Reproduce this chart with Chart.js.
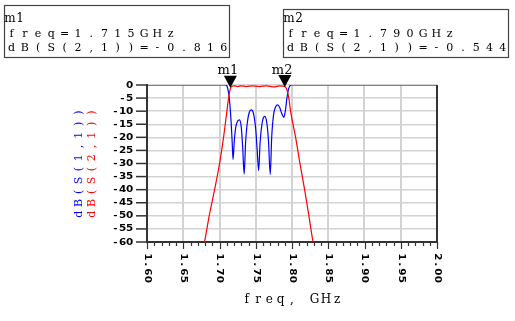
<!DOCTYPE html>
<html><head><meta charset="utf-8">
<script src="https://cdn.jsdelivr.net/npm/chart.js@4.4.0/dist/chart.umd.min.js"></script>
<style>html,body{margin:0;padding:0;background:#fff;overflow:hidden}#c{display:block}</style>
</head><body>
<div style="width:515px;height:321px"><canvas id="c" width="515" height="321"></canvas></div>
<script>
const xTicks = [1.60, 1.65, 1.70, 1.75, 1.80, 1.85, 1.90, 1.95, 2.00];
const xTickLabels = ['1.60', '1.65', '1.70', '1.75', '1.80', '1.85', '1.90', '1.95', '2.00'];
const yTicks = [0, -5, -10, -15, -20, -25, -30, -35, -40, -45, -50, -55, -60];
const yTickLabels = ['0', '-5', '-10', '-15', '-20', '-25', '-30', '-35', '-40', '-45', '-50', '-55', '-60'];

// dB(S(2,1)) - red
const s21Freq = [1.676, 1.6793, 1.6858, 1.6932, 1.7001, 1.7056, 1.7102, 1.7125, 1.7145, 1.7158,
  1.720, 1.725, 1.730, 1.737, 1.745, 1.755, 1.765, 1.775, 1.783, 1.790,
  1.7930, 1.7956, 1.798, 1.805, 1.811, 1.8174, 1.8233, 1.829, 1.832];
const s21dB = [-64, -60, -50, -40, -30, -20, -10, -5, -2, -0.8,
  -0.3, -0.6, -0.3, -0.6, -0.3, -0.6, -0.3, -0.7, -0.3, -0.544,
  -1.8, -5, -10, -20, -30, -40, -50, -60, -64];

// dB(S(1,1)) - blue
const s11Freq = [1.600, 1.708, 1.710, 1.7115, 1.713, 1.7145, 1.716, 1.7175, 1.7187,
  1.7205, 1.7225, 1.7250, 1.7276, 1.7300, 1.7320, 1.7340,
  1.7360, 1.7380, 1.7410, 1.7439, 1.7470, 1.7500, 1.7520, 1.7540,
  1.7560, 1.7585, 1.7605, 1.7624, 1.7650, 1.7675, 1.7700,
  1.7720, 1.7745, 1.7775, 1.7803, 1.7830, 1.7860, 1.7887,
  1.7910, 1.7930, 1.7950, 1.7970, 1.7990, 2.000];
const s11dB = [0, 0, -0.3, -1.5, -4, -8, -14, -22, -28.5,
  -21, -16, -13.8, -13.3, -16, -24, -34,
  -22, -15.3, -10.5, -9.5, -11, -17, -25, -32.7,
  -22, -15, -12.5, -12, -14, -21, -34.2,
  -20, -11.5, -8.3, -7.6, -8.6, -11, -12.4,
  -9.5, -5, -1.8, -0.4, 0, 0];

const markerNames = ['m1', 'm2'];
const markerFreq = [1.715, 1.790];
const markerDB = [-0.816, -0.544];
const markerLines = [
  ['m1', 'freq=1.715GHz', 'dB(S(2,1))=-0.816'],
  ['m2', 'freq=1.790GHz', 'dB(S(2,1))=-0.544']
];

const toXY = (xs, ys) => xs.map((x, i) => ({x: x, y: ys[i]}));

function spaced(ctx, text, x0, y, pitch, sx) {
  for (let i = 0; i < text.length; i++) {
    const cx = x0 + pitch * i + pitch / 2;
    ctx.save();
    ctx.translate(cx, y);
    ctx.scale(sx, 1);
    ctx.textAlign = 'center';
    ctx.fillText(text[i], 0, 0);
    ctx.restore();
  }
}

const deco = {
  id: 'deco',
  afterDraw(chart) {
    const ctx = chart.ctx;
    const xs = chart.scales.x, ys = chart.scales.y;
    const a = chart.chartArea;
    ctx.save();
    ctx.strokeStyle = '#333';
    ctx.lineWidth = 2;
    ctx.beginPath(); ctx.moveTo(a.right, a.top); ctx.lineTo(a.right, a.bottom + 1); ctx.stroke();
    ctx.lineWidth = 1.2;
    for (let i = 0; i <= 40; i++) {
      const v = 1.6 + i * 0.01;
      const px = Math.round(xs.getPixelForValue(v)) + 0.5;
      const len = (i % 5 === 0) ? 7 : 4;
      ctx.beginPath(); ctx.moveTo(px, a.bottom); ctx.lineTo(px, a.bottom + len); ctx.stroke();
    }
    ctx.lineWidth = 1.5;
    yTicks.forEach(v => {
      const py = ys.getPixelForValue(v);
      ctx.beginPath(); ctx.moveTo(a.left - 11, py); ctx.lineTo(a.left, py); ctx.stroke();
    });
    ctx.fillStyle = '#000';
    ctx.font = 'bold 8px "DejaVu Sans"';
    ctx.textBaseline = 'middle';
    yTickLabels.forEach((t, i) => {
      const py = ys.getPixelForValue(yTicks[i]);
      const p = 7;
      spaced(ctx, t, 133 - p * t.length, py + 0.5, p, 1.3);
    });
    xTickLabels.forEach((t, i) => {
      const px = xs.getPixelForValue(xTicks[i]);
      ctx.save();
      ctx.translate(px, a.bottom + 11);
      ctx.rotate(Math.PI / 2);
      spaced(ctx, t, 0, 0, 7.5, 1.3);
      ctx.restore();
    });
    ctx.font = '12px "DejaVu Serif"';
    ctx.textBaseline = 'alphabetic';
    const xt = 'freq, GHz';
    const xp = 11.3;
    spaced(ctx, xt, (a.left + a.right) / 2 - xp * xt.length / 2, 303, xp, 1);
    const yTitles = [['dB(S(1,1))', '#0000ff', 79], ['dB(S(2,1))', '#ff0000', 92.5]];
    const yc = (a.top + a.bottom) / 2;
    yTitles.forEach(([t, col, cx]) => {
      ctx.save();
      ctx.fillStyle = col;
      ctx.translate(cx, yc);
      ctx.rotate(-Math.PI / 2);
      ctx.textBaseline = 'middle';
      ctx.font = '11px "DejaVu Serif"';
      const p = 11.3;
      spaced(ctx, t, -p * t.length / 2, 0, p, 1);
      ctx.restore();
    });
    markerNames.forEach((n, i) => {
      const px = xs.getPixelForValue(markerFreq[i]);
      const py = ys.getPixelForValue(markerDB[i]);
      ctx.fillStyle = '#000';
      ctx.beginPath();
      ctx.moveTo(px - 6.5, py - 11.5);
      ctx.lineTo(px + 6.5, py - 11.5);
      ctx.lineTo(px, py + 0.5);
      ctx.closePath(); ctx.fill();
      ctx.font = '13px "DejaVu Serif"';
      ctx.textBaseline = 'alphabetic';
      spaced(ctx, n, px - 12, 73.5, 10.5, 1);
    });
    const boxes = [[4, 5, 225, 52], [283, 9, 225, 48]];
    boxes.forEach((b, i) => {
      ctx.strokeStyle = '#444';
      ctx.lineWidth = 1.2;
      ctx.strokeRect(b[0] + 0.5, b[1] + 0.5, b[2], b[3]);
      ctx.fillStyle = '#000';
      ctx.textBaseline = 'alphabetic';
      const L = markerLines[i];
      ctx.font = '12px "DejaVu Serif"';
      spaced(ctx, L[0], b[0] + 1, 22, 10, 1);
      ctx.font = '11px "DejaVu Serif"';
      spaced(ctx, L[1], b[0] + 1, 36.5, 13.25, 1);
      spaced(ctx, L[2], b[0] + 1, 51, 13.25, 1);
    });
    ctx.restore();
  }
};

new Chart(document.getElementById('c'), {
  type: 'line',
  data: {
    datasets: [
      {label: 'dB(S(2,1))', data: toXY(s21Freq, s21dB), borderColor: '#ff0000', borderWidth: 1.2,
        pointRadius: 0, fill: false, cubicInterpolationMode: 'monotone'},
      {label: 'dB(S(1,1))', data: toXY(s11Freq, s11dB), borderColor: '#0000ff', borderWidth: 1.2,
        pointRadius: 0, fill: false, cubicInterpolationMode: 'monotone'}
    ]
  },
  options: {
    responsive: false,
    animation: false,
    devicePixelRatio: 1,
    layout: {padding: {top: 85, right: 78, left: 0, bottom: 0}},
    plugins: {legend: {display: false}, tooltip: {enabled: false}},
    scales: {
      x: {type: 'linear', min: 1.6, max: 2.0,
        ticks: {display: false, stepSize: 0.05},
        grid: {color: '#d3d3d3', lineWidth: 2, drawTicks: false},
        border: {display: true, color: '#333', width: 2},
        afterFit: s => { s.height = 79; }},
      y: {type: 'linear', min: -60, max: 0,
        ticks: {display: false, stepSize: 5},
        grid: {color: '#d3d3d3', lineWidth: 1.5, drawTicks: false},
        border: {display: true, color: '#333', width: 2},
        afterFit: s => { s.width = 147; }}
    }
  },
  plugins: [deco]
});
</script>
</body></html>
